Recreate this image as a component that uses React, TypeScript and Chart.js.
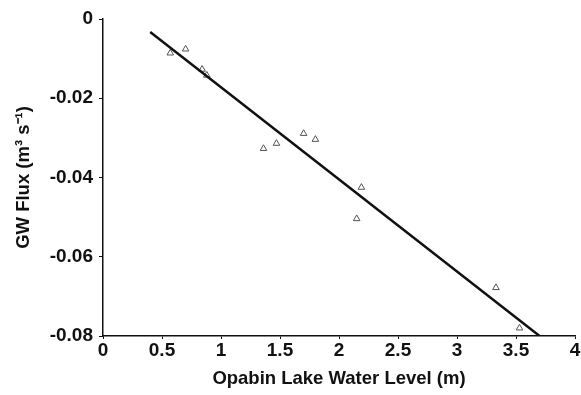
import React, { useEffect, useRef } from "react";
import { Chart, registerables } from "chart.js";

Chart.register(...registerables);

const waterLevel = [0.57, 0.70, 0.84, 0.88, 1.36, 1.47, 1.70, 1.80, 2.15, 2.19, 3.33, 3.53];
const gwFlux = [-0.0086, -0.0076, -0.0127, -0.0142, -0.0327, -0.0314, -0.0289, -0.0304, -0.0504, -0.0425, -0.0678, -0.078];
const fitX = [0.40, 3.70];
const fitY = [-0.0033, -0.08];
const xTicks = [0, 0.5, 1, 1.5, 2, 2.5, 3, 3.5, 4];
const yTicks = [0, -0.02, -0.04, -0.06, -0.08];

export default function App() {
  const ref = useRef<HTMLCanvasElement | null>(null);
  useEffect(() => {
    if (!ref.current) return;
    const font = "'Liberation Sans', Arial, sans-serif";
    const chart = new Chart(ref.current, {
      type: "scatter",
      data: {
        datasets: [
          {
            type: "line",
            data: fitX.map((x, i) => ({ x, y: fitY[i] })),
            borderColor: "#111",
            borderWidth: 2.5,
            pointRadius: 0,
            fill: false,
          },
          {
            type: "scatter",
            data: waterLevel.map((x, i) => ({ x, y: gwFlux[i] })),
            pointStyle: "triangle",
            pointRadius: 3.8,
            backgroundColor: "rgba(255,255,255,0)",
            borderColor: "#555",
            borderWidth: 1,
          },
        ],
      },
      options: {
        animation: false,
        responsive: true,
        maintainAspectRatio: false,
        layout: { padding: { top: 19, right: 6, left: 0, bottom: 0 } },
        plugins: { legend: { display: false }, tooltip: { enabled: false } },
        scales: {
          x: {
            type: "linear",
            min: 0,
            max: 4,
            afterBuildTicks: (s: any) => {
              s.ticks = xTicks.map((v) => ({ value: v }));
            },
            afterFit: (s: any) => {
              s.height = 59;
            },
            ticks: {
              color: "#111",
              font: { family: font, size: 19, weight: "bold" },
              padding: 0,
              maxRotation: 0,
              callback: (v: any) => String(v),
            },
            grid: { drawOnChartArea: false, drawTicks: true, tickLength: 3, color: "#111" },
            border: { color: "#111", width: 1.5 },
            title: {
              display: true,
              text: "Opabin Lake Water Level (m)",
              color: "#111",
              font: { family: font, size: 18.5, weight: "bold" },
              padding: { top: 0, bottom: 5 },
            },
          },
          y: {
            type: "linear",
            min: -0.08,
            max: 0,
            afterBuildTicks: (s: any) => {
              s.ticks = yTicks.map((v) => ({ value: v }));
            },
            afterFit: (s: any) => {
              s.width = 103;
            },
            ticks: {
              color: "#111",
              font: { family: font, size: 19, weight: "bold" },
              padding: 6,
              callback: (v: any) => (v === 0 ? "0" : Number(v).toFixed(2)),
            },
            grid: { drawOnChartArea: false, drawTicks: true, tickLength: 4, color: "#111" },
            border: { color: "#111", width: 1.5 },
            title: {
              display: true,
              text: "GW Flux (m³ s⁻¹)",
              color: "#111",
              font: { family: font, size: 18.5, weight: "bold" },
              padding: { top: 13, bottom: 0 },
            },
          },
        },
      },
    });
    return () => chart.destroy();
  }, []);
  return (
    <div style={{ position: "absolute", left: 0, top: 0, width: 581, height: 395, background: "#fff" }}>
      <canvas ref={ref} />
    </div>
  );
}
